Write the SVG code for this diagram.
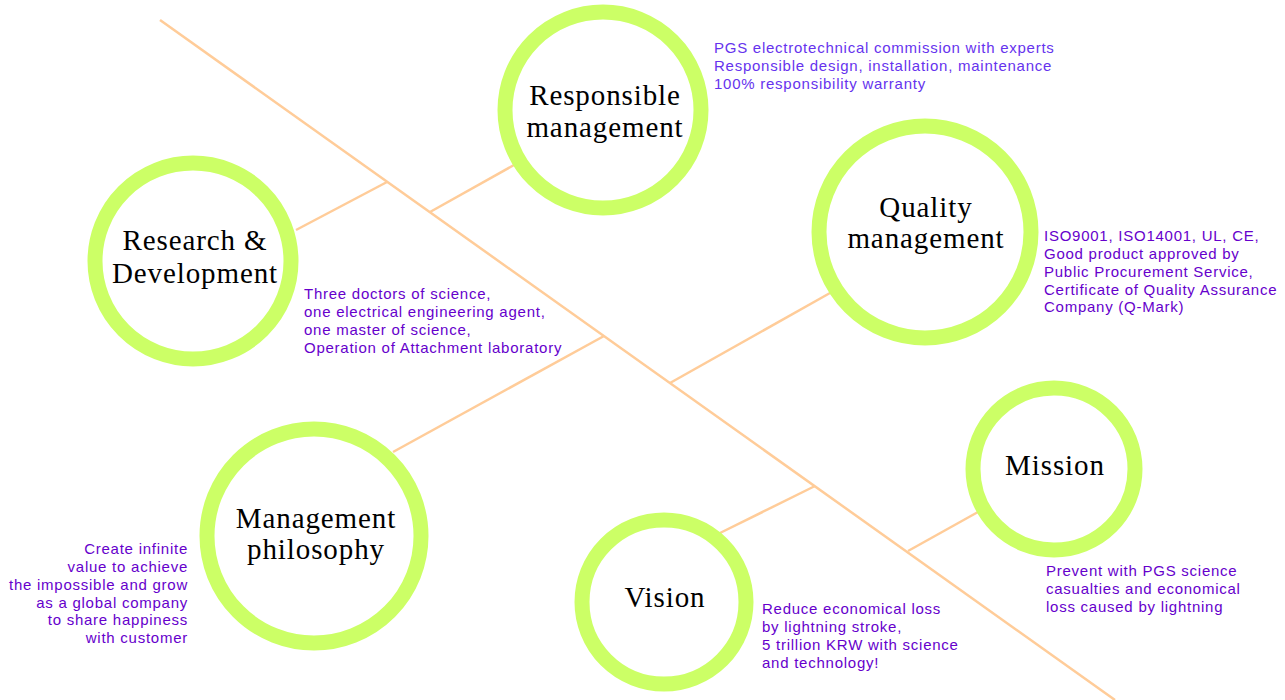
<svg xmlns="http://www.w3.org/2000/svg" width="1285" height="700" viewBox="0 0 1285 700">
<style>
.ring{fill:#fff;stroke:#ccff66;stroke-width:15}
.con{stroke:#ffcc99;stroke-width:2.5;fill:none}
.t{font-family:"Liberation Serif","Times New Roman",serif;font-size:29px;letter-spacing:0.9px;fill:#000;text-anchor:middle}
.d{font-family:"Liberation Sans",Arial,sans-serif;font-size:15px;letter-spacing:0.75px;fill:#6600cc}
.d2{fill:#6633ee}
</style>
<rect width="1285" height="700" fill="#fff"/>
<g id="connectors">
<line class="con" x1="160" y1="20" x2="1115" y2="700"/>
<line class="con" x1="296" y1="230" x2="387" y2="182"/>
<line class="con" x1="430" y1="212" x2="514" y2="165"/>
<line class="con" x1="393" y1="452" x2="604" y2="336"/>
<line class="con" x1="670" y1="383" x2="830" y2="293"/>
<line class="con" x1="720" y1="533" x2="815" y2="486"/>
<line class="con" x1="908" y1="551" x2="978" y2="512"/>
</g>
<g id="responsible">
<circle class="ring" cx="603" cy="110" r="98"/>
<text class="t" x="605" y="105">Responsible</text>
<text class="t" x="605" y="137">management</text>
<text class="d d2" x="714"><tspan x="714" y="53">PGS electrotechnical commission with experts</tspan><tspan x="714" y="71">Responsible design, installation, maintenance</tspan><tspan x="714" y="89">100% responsibility warranty</tspan></text>
</g>
<g id="research">
<circle class="ring" cx="193" cy="261" r="98"/>
<text class="t" x="195" y="250">Research &amp;</text>
<text class="t" x="195" y="283">Development</text>
<text class="d" x="304"><tspan x="304" y="299">Three doctors of science,</tspan><tspan x="304" y="317">one electrical engineering agent,</tspan><tspan x="304" y="335">one master of science,</tspan><tspan x="304" y="353">Operation of Attachment laboratory</tspan></text>
</g>
<g id="quality">
<circle class="ring" cx="925" cy="232" r="106"/>
<text class="t" x="926" y="217">Quality</text>
<text class="t" x="926" y="248">management</text>
<text class="d" x="1044"><tspan x="1044" y="241">ISO9001, ISO14001, UL, CE,</tspan><tspan x="1044" y="259">Good product approved by</tspan><tspan x="1044" y="277">Public Procurement Service,</tspan><tspan x="1044" y="295">Certificate of Quality Assurance</tspan><tspan x="1044" y="312">Company (Q-Mark)</tspan></text>
</g>
<g id="mission">
<circle class="ring" cx="1054" cy="469" r="81"/>
<text class="t" x="1055" y="475">Mission</text>
<text class="d" x="1046"><tspan x="1046" y="576">Prevent with PGS science</tspan><tspan x="1046" y="594">casualties and economical</tspan><tspan x="1046" y="612">loss caused by lightning</tspan></text>
</g>
<g id="philosophy">
<circle class="ring" cx="314" cy="536" r="107"/>
<text class="t" x="316" y="528">Management</text>
<text class="t" x="316" y="559">philosophy</text>
<text class="d" x="188" text-anchor="end"><tspan x="188" y="554">Create infinite</tspan><tspan x="188" y="572">value to achieve</tspan><tspan x="188" y="590">the impossible and grow</tspan><tspan x="188" y="608">as a global company</tspan><tspan x="188" y="625">to share happiness</tspan><tspan x="188" y="643">with customer</tspan></text>
</g>
<g id="vision">
<circle class="ring" cx="664" cy="602" r="82"/>
<text class="t" x="665" y="607">Vision</text>
<text class="d" x="762"><tspan x="762" y="614">Reduce economical loss</tspan><tspan x="762" y="632">by lightning stroke,</tspan><tspan x="762" y="650">5 trillion KRW with science</tspan><tspan x="762" y="668">and technology!</tspan></text>
</g>
</svg>
